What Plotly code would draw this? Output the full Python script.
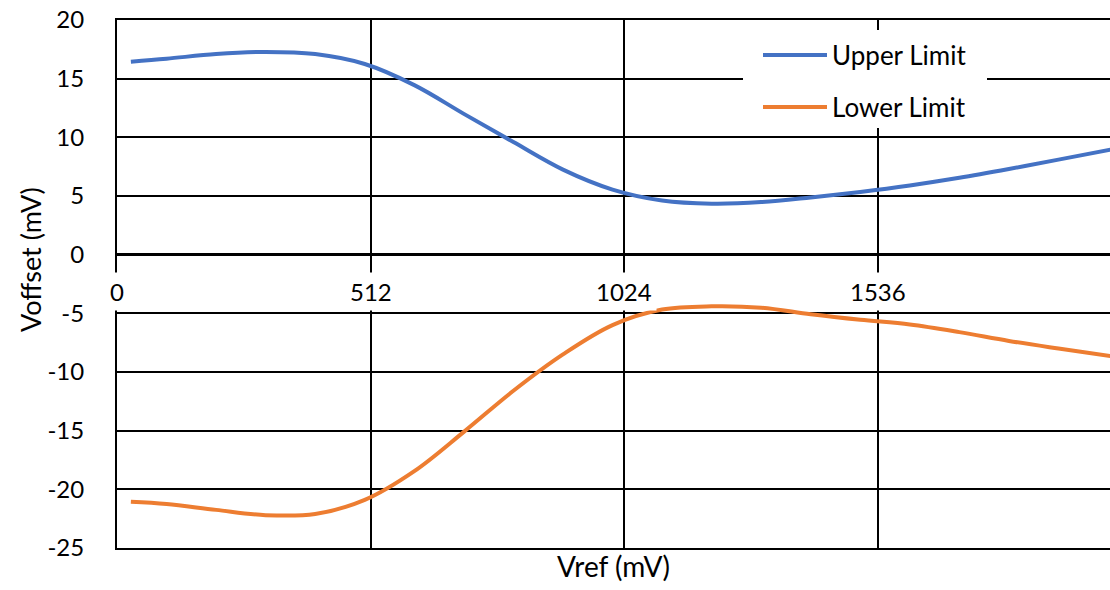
import plotly.graph_objects as go

# ---- data ----
vref = [28, 100, 200, 300, 400, 500, 600, 700, 800, 900, 1000,
        1100, 1200, 1300, 1400, 1500, 1600, 1700, 1800, 1900, 2005]
upper_limit = [16.45, 16.7, 17.1, 17.28, 17.1, 16.25, 14.45, 12.0, 9.6, 7.25, 5.55,
               4.62, 4.35, 4.48, 4.88, 5.35, 5.9, 6.55, 7.3, 8.1, 8.95]
lower_limit = [-21.06, -21.25, -21.75, -22.2, -22.1, -20.9, -18.45, -15.1, -11.6, -8.5,
               -6.0, -4.68, -4.4, -4.52, -5.08, -5.55, -5.95, -6.6, -7.35, -8.0, -8.65]
x_ticks = [0, 512, 1024, 1536]
x_tick_labels = ["0", "512", "1024", "1536"]
y_ticks = [-25, -20, -15, -10, -5, 0, 5, 10, 15, 20]
y_tick_labels = [str(v) for v in y_ticks]
series_names = ["Upper Limit", "Lower Limit"]
series_colors = ["#4472C4", "#ED7D31"]

FONT = "Lato"
W, H = 1110, 590
ML, MR, MT, MB = 117, 0, 20, 42
PW, PH = W - ML - MR, H - MT - MB


def px_x(p):
    return (p - ML) / PW


def px_y(p):
    return (H - MB - p) / PH


fig = go.Figure()
for name, ys, col in zip(series_names, [upper_limit, lower_limit], series_colors):
    fig.add_trace(go.Scatter(x=vref, y=ys, mode="lines", name=name,
                             line=dict(color=col, width=4, shape="spline", smoothing=1.0),
                             showlegend=False))

annotations = []
for v, t in zip(x_ticks, x_tick_labels):
    annotations.append(dict(x=v, y=0, xref="x", yref="y", text=t, showarrow=False,
                            yanchor="middle", xanchor="center", yshift=-37,
                            bgcolor="white", borderpad=4,
                            font=dict(family=FONT, size=24, color="black")))

annotations.append(dict(x=px_x(30), y=px_y(260), xref="paper", yref="paper",
                        text="Voffset (mV)", textangle=-90, showarrow=False,
                        xanchor="center", yanchor="middle",
                        font=dict(family=FONT, size=27, color="black")))

shapes = [dict(type="rect", xref="paper", yref="paper",
               x0=px_x(743), x1=px_x(987), y0=px_y(128), y1=px_y(30),
               fillcolor="white", line=dict(width=0), layer="above")]
for i, (name, col) in enumerate(zip(series_names, series_colors)):
    yy = px_y(55 + 52 * i)
    shapes.append(dict(type="line", xref="paper", yref="paper",
                       x0=px_x(763), x1=px_x(827), y0=yy, y1=yy,
                       line=dict(color=col, width=4), layer="above"))
    annotations.append(dict(x=px_x(830), y=yy, xref="paper", yref="paper",
                            text=name, showarrow=False, xanchor="left", yanchor="middle",
                            font=dict(family=FONT, size=26, color="black")))

fig.update_layout(
    width=W, height=H,
    margin=dict(l=ML, r=MR, t=MT, b=MB, pad=0),
    paper_bgcolor="white", plot_bgcolor="white",
    font=dict(family=FONT, size=24, color="black"),
    annotations=annotations, shapes=shapes,
    xaxis=dict(range=[0, 2004], tickvals=x_ticks, showticklabels=False,
               showgrid=True, gridcolor="black", gridwidth=2,
               zeroline=True, zerolinecolor="black", zerolinewidth=2,
               showline=True, linecolor="black", linewidth=2, mirror=True,
               ticks="",
               title=dict(text="Vref (mV)", standoff=8,
                          font=dict(family=FONT, size=28, color="black"))),
    yaxis=dict(range=[-25, 20], tickvals=y_ticks, ticktext=y_tick_labels,
               showgrid=True, gridcolor="black", gridwidth=2,
               zeroline=True, zerolinecolor="black", zerolinewidth=3,
               showline=True, linecolor="black", linewidth=2,
               ticks="", ticklabelstandoff=26, ticklabeloverflow="allow",
               tickfont=dict(family=FONT, size=24, color="black")),
)

fig.write_html("out.html", config={"displayModeBar": False},
               post_script="document.body.style.margin='0';document.body.style.overflow='hidden';")
